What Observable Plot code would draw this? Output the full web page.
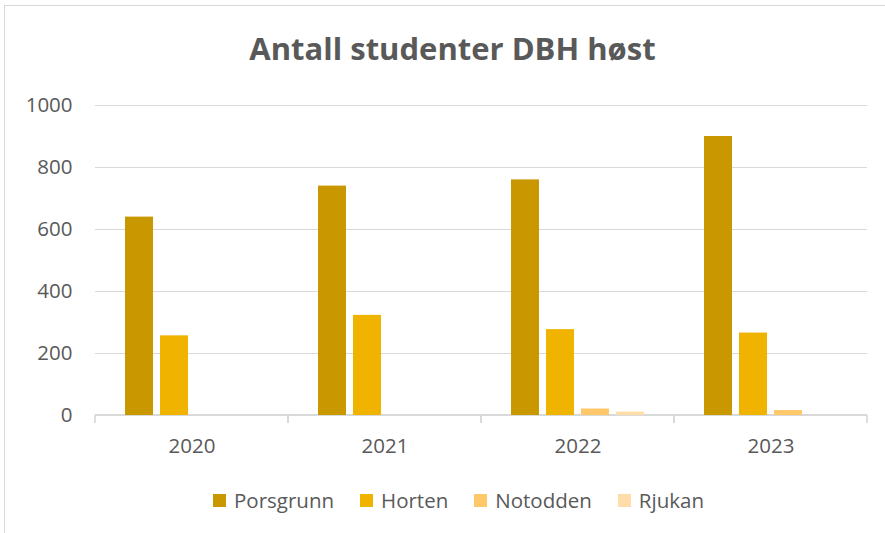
<!DOCTYPE html>
<html>
<head>
<meta charset="utf-8">
<script src="https://cdn.jsdelivr.net/npm/d3@7"></script>
<script src="https://cdn.jsdelivr.net/npm/@observablehq/plot@0.6"></script>
<style>
  body { margin: 0; background: #fff; }
  #wrap { position: relative; width: 885px; height: 533px; overflow: hidden; font-family: "Open Sans", sans-serif; color: #595959; }
  #border { position: absolute; left: 4px; top: 5px; width: 900px; height: 600px; border: 1px solid #d9d9d9; box-sizing: border-box; }
  #title { position: absolute; left: 0; width: 905px; top: 28px; text-align: center; font-weight: 700; font-size: 31px; line-height: 40px; }
  #chart { position: absolute; left: 0; top: 85px; }
  #legend { position: absolute; left: 0; width: 917px; top: 486px; display: flex; justify-content: center; gap: 26px; font-size: 20.5px; line-height: 28px; }
  #legend .item { display: flex; align-items: center; gap: 8px; }
  #legend .sw { width: 13px; height: 13px; display: inline-block; }
</style>
</head>
<body>
<div id="wrap">
  <div id="border"></div>
  <div id="title">Antall studenter DBH høst</div>
  <div id="chart"></div>
  <div id="legend"></div>
</div>
<script>
const years = ["2020", "2021", "2022", "2023"];
const cities = ["Porsgrunn", "Horten", "Notodden", "Rjukan"];
const porsgrunn = [640, 740, 760, 900];
const horten = [257, 323, 277, 266];
const notodden = [0, 0, 21, 16];
const rjukan = [0, 0, 11, 0];
const yTicks = [0, 200, 400, 600, 800, 1000];
const colors = ["#C99700", "#F0B400", "#FFC869", "#FFDCA8"];

const series = [porsgrunn, horten, notodden, rjukan];
const data = years.flatMap((yr, i) => cities.map((c, j) => ({year: yr, city: c, value: series[j][i]})));

// Gridlines, baseline and category-boundary ticks, drawn in each facet across its full band step
function frameLines(index, scales, values, dimensions, context) {
  const fx = scales.fx, y = scales.y;
  const g = d3.create("svg:g");
  const {marginLeft, marginRight, width} = dimensions;
  const half = fx ? (fx.step() - fx.bandwidth()) / 2 : 0;
  const x1 = marginLeft - half, x2 = width - marginRight + half;
  for (const t of yTicks) {
    if (t === 0) continue;
    g.append("line").attr("x1", x1).attr("x2", x2).attr("y1", y(t) + 0.5).attr("y2", y(t) + 0.5)
      .attr("stroke", "#d9d9d9").attr("stroke-width", 1);
  }
  const y0 = y(0);
  g.append("line").attr("x1", x1).attr("x2", x2).attr("y1", y0).attr("y2", y0)
    .attr("stroke", "#d9d9d9").attr("stroke-width", 2);
  for (const e of [x1, x2]) {
    g.append("line").attr("x1", e).attr("x2", e).attr("y1", y0).attr("y2", y0 + 8)
      .attr("stroke", "#d9d9d9").attr("stroke-width", 1.7);
  }
  return g.node();
}

// facet bands are inset from the plot edge by half the inner padding; the y axis sits in the first facet
const plotWidth = 885 - 95 - 17;
const fxPadInner = 0.31;
const facetInset = (plotWidth / years.length) * fxPadInner / 2;

const chart = Plot.plot({
  width: 885,
  height: 385,
  marginLeft: 95,
  marginRight: 17,
  marginTop: 20,
  marginBottom: 55,
  style: {fontFamily: "Open Sans, sans-serif", fontSize: "20.5px", color: "#595959", background: "transparent"},
  fx: {domain: years, paddingInner: fxPadInner, paddingOuter: fxPadInner / 2, label: null},
  x: {domain: cities, paddingInner: 0.2, paddingOuter: 0, axis: null},
  y: {domain: [0, 1000], label: null},
  color: {domain: cities, range: colors},
  marks: [
    frameLines,
    Plot.barY(data, {fx: "year", x: "city", y: "value", fill: "city"}),
    Plot.axisY(yTicks, {tickSize: 0, tickPadding: 23 + facetInset, fill: "#595959", fontSize: 20.5, tickFormat: d => String(d)}),
    Plot.axisFx({anchor: "bottom", tickSize: 0, tickPadding: 23, fill: "#595959", fontSize: 20.5, label: null})
  ]
});
document.getElementById("chart").appendChild(chart);

const legend = document.getElementById("legend");
cities.forEach((c, i) => {
  const item = document.createElement("div");
  item.className = "item";
  const sw = document.createElement("span");
  sw.className = "sw";
  sw.style.background = colors[i];
  const t = document.createElement("span");
  t.textContent = c;
  item.appendChild(sw);
  item.appendChild(t);
  legend.appendChild(item);
});
</script>
</body>
</html>
